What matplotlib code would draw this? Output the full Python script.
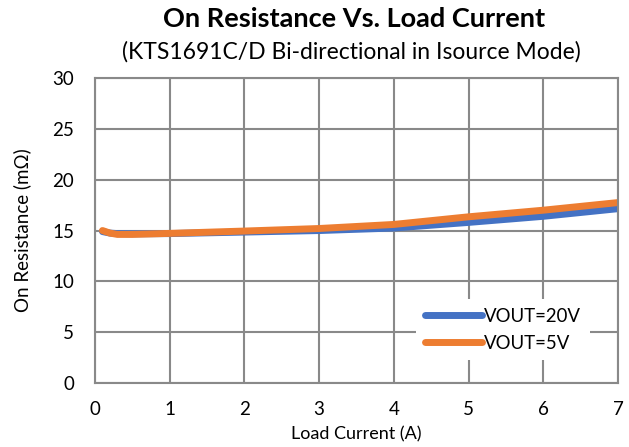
import matplotlib
matplotlib.use("Agg")
import matplotlib.pyplot as plt

x = [0.1, 0.2, 0.3, 0.5, 1, 2, 3, 4, 5, 6, 7]
vout20 = [14.9, 14.75, 14.7, 14.68, 14.7, 14.85, 15.0, 15.25, 15.8, 16.4, 17.15]
vout5 = [15.0, 14.75, 14.62, 14.62, 14.72, 14.95, 15.2, 15.6, 16.35, 17.0, 17.75]
xticks = [0, 1, 2, 3, 4, 5, 6, 7]
yticks = [0, 5, 10, 15, 20, 25, 30]

plt.rcParams['font.family'] = ['Lato', 'DejaVu Sans']

fig = plt.figure(figsize=(6.29, 4.47), dpi=100)
ax = fig.add_axes([0.151, 0.143, 0.8315, 0.6825])

ax.plot(x, vout20, color='#4472C4', lw=5, solid_capstyle='round', label='VOUT=20V')
ax.plot(x, vout5, color='#ED7D31', lw=5, solid_capstyle='round', label='VOUT=5V')

ax.set_xlim(0, 7)
ax.set_ylim(0, 30)
ax.set_xticks(xticks)
ax.set_yticks(yticks)
ax.grid(True, color='#898989', lw=1.5)
ax.set_axisbelow(True)
for s in ax.spines.values():
    s.set_color('#898989')
    s.set_linewidth(1.5)
ax.tick_params(length=0, labelsize=13.5)
ax.tick_params(axis='y', pad=15)
ax.tick_params(axis='x', pad=13)

ax.set_xlabel('Load Current (A)', fontsize=13, labelpad=6)
ax.set_ylabel('On Resistance (mΩ)', fontsize=13.5, labelpad=15)

fig.text(0.563, 0.958, 'On Resistance Vs. Load Current', ha='center', va='center',
         fontsize=19.5, fontweight='bold')
fig.text(0.558, 0.885, '(KTS1691C/D Bi-directional in Isource Mode)', ha='center', va='center',
         fontsize=16.5)

leg = ax.legend(loc='center', bbox_to_anchor=(0.78, 0.175), frameon=True, fontsize=13.4,
                handlelength=3.1, handletextpad=0.1, borderpad=0.45, labelspacing=0.55,
                fancybox=False)
leg.get_frame().set_edgecolor('none')
leg.get_frame().set_facecolor('white')
leg.get_frame().set_alpha(1)

fig.savefig('out.png', dpi=100)
